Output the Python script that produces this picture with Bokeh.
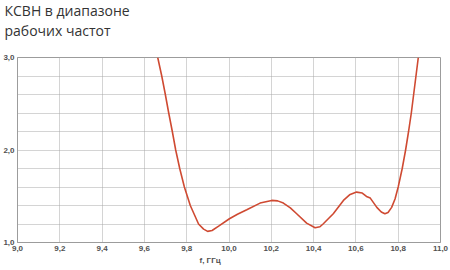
from bokeh.plotting import figure
from bokeh.models import Range1d, FixedTicker, CustomJSTickFormatter, Title
from bokeh.embed import file_html
from bokeh.resources import INLINE

# Data (frequency in GHz, VSWR)
freq = [9.663, 9.682, 9.699, 9.715, 9.732, 9.748, 9.767, 9.789, 9.817, 9.856,
        9.880, 9.899, 9.920, 9.951, 10.002, 10.040, 10.084, 10.147, 10.202,
        10.230, 10.257, 10.290, 10.320, 10.367, 10.407, 10.430, 10.446, 10.493,
        10.541, 10.570, 10.603, 10.630, 10.650, 10.668, 10.699, 10.720, 10.737,
        10.752, 10.769, 10.785, 10.800, 10.819, 10.835, 10.849, 10.862, 10.873,
        10.884, 10.895]
vswr = [3.00, 2.80, 2.60, 2.40, 2.20, 2.00, 1.80, 1.60, 1.40, 1.20,
        1.145, 1.120, 1.130, 1.177, 1.257, 1.305, 1.354, 1.426, 1.455,
        1.450, 1.426, 1.375, 1.311, 1.209, 1.159, 1.170, 1.203, 1.311,
        1.455, 1.515, 1.545, 1.535, 1.498, 1.480, 1.380, 1.330, 1.310,
        1.325, 1.380, 1.470, 1.600, 1.800, 2.000, 2.200, 2.400, 2.600,
        2.800, 3.000]

x_ticks = [9.0, 9.2, 9.4, 9.6, 9.8, 10.0, 10.2, 10.4, 10.6, 10.8, 11.0]
y_ticks = [1.0, 2.0, 3.0]
y_grid = [1.0, 1.2, 1.4, 1.6, 1.8, 2.0, 2.2, 2.4, 2.6, 2.8, 3.0]

title_lines = ["КСВН в диапазоне", "рабочих частот"]
x_label = "f, ГГц"

p = figure(width=450, height=270, output_backend="svg", toolbar_location=None,
           x_range=Range1d(9.0, 11.0), y_range=Range1d(1.0, 3.0),
           min_border_left=17, min_border_right=10, min_border_top=57,
           min_border_bottom=28)
p.background_fill_color = "white"
p.border_fill_color = "white"
p.outline_line_color = "#9c9c9c"
p.outline_line_width = 1

fmt = CustomJSTickFormatter(code="return tick.toFixed(1).replace('.', ',');")
for ax, ticks in ((p.xaxis[0], x_ticks), (p.yaxis[0], y_ticks)):
    ax.ticker = FixedTicker(ticks=ticks)
    ax.formatter = fmt
    ax.axis_line_color = "#9c9c9c"
    ax.major_tick_in = 0
    ax.major_tick_out = 0
    ax.minor_tick_line_color = None
    ax.major_label_text_font = "Liberation Sans"
    ax.major_label_text_font_style = "bold"
    ax.major_label_text_font_size = "8px"
    ax.major_label_text_color = "#505050"
    ax.major_label_standoff = 3

p.xgrid.ticker = FixedTicker(ticks=x_ticks)
p.ygrid.ticker = FixedTicker(ticks=y_grid)
for g in (p.xgrid[0], p.ygrid[0]):
    g.grid_line_color = "#a8a8a8"
    g.grid_line_dash = "1 1"
    g.grid_line_width = 1

p.line(freq, vswr, line_color="#cf4a32", line_width=1.6)

p.title.text = title_lines[0]
p.title.align = "left"
p.title.offset = -13
p.title.text_font = "Open Sans"
p.title.text_font_size = "14px"
p.title.text_font_style = "normal"
p.title.text_color = "#333333"
p.title.standoff = -4
# spacer between the title block and the plot frame (nearest to the frame)
p.add_layout(Title(text=" ", standoff=2, text_font="Liberation Sans",
                   text_font_size="8px"), "above")
p.add_layout(Title(text=title_lines[1], standoff=6, vertical_align="top",
                   align="left", offset=-13, text_font="Open Sans",
                   text_font_size="14px", text_font_style="normal",
                   text_color="#333333"), "above")

p.add_layout(Title(text=x_label, align="left", offset=182, standoff=0,
                   text_font="Liberation Sans", text_font_style="bold",
                   text_font_size="8px", text_color="#505050"), "below")

open("out.html", "w").write(file_html(p, INLINE))
